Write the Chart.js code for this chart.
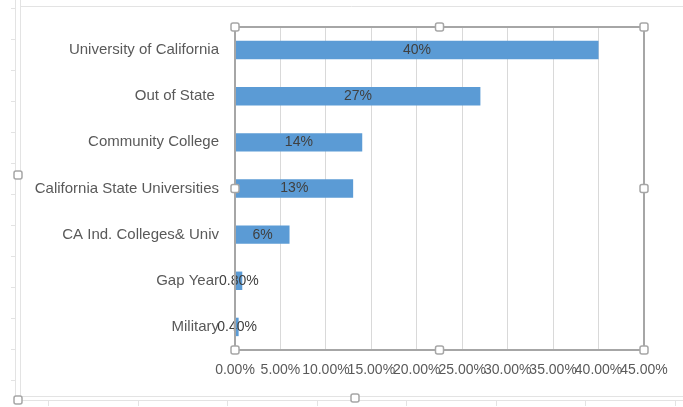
<!DOCTYPE html>
<html>
<head>
<meta charset="utf-8">
<script src="https://cdn.jsdelivr.net/npm/chart.js@4.4.1/dist/chart.umd.min.js"></script>
<style>
  html, body { margin: 0; padding: 0; background: #fff; }
  #wrap { width: 683px; height: 407px; position: relative; }
</style>
</head>
<body>
<div id="wrap"><canvas id="destChart"></canvas></div>
<script>
const categories = [
    'University of California',
    'Out of State ',
    'Community College',
    'California State Universities',
    'CA Ind. Colleges& Univ',
    'Gap Year',
    'Military'
];
const shares = [40, 27, 14, 13, 6, 0.8, 0.4];
const shareLabels = ['40%', '27%', '14%', '13%', '6%', '0.80%', '0.40%'];
const tickValues = [0, 5, 10, 15, 20, 25, 30, 35, 40, 45];

const fontFamily = '"Liberation Sans", Arial, sans-serif';

// values written inside each bar
const barLabels = {
    id: 'barLabels',
    afterDatasetsDraw(chart) {
        const ctx = chart.ctx;
        const meta = chart.getDatasetMeta(0);
        ctx.save();
        ctx.font = '14px ' + fontFamily;
        ctx.fillStyle = '#404040';
        ctx.textAlign = 'center';
        ctx.textBaseline = 'middle';
        meta.data.forEach((bar, i) => {
            ctx.fillText(shareLabels[i], (bar.base + bar.x) / 2, bar.y);
        });
        ctx.restore();
    }
};

// excel-ish selection frame and sheet edges
function handle(ctx, x, y) {
    ctx.beginPath();
    ctx.roundRect(x - 4, y - 4, 8, 8, 2);
    ctx.fillStyle = '#fff';
    ctx.fill();
    ctx.strokeStyle = '#a6a6a6';
    ctx.lineWidth = 1.5;
    ctx.stroke();
}

const frame = {
    id: 'frame',
    beforeDraw(chart) {
        const ctx = chart.ctx;
        ctx.save();
        ctx.strokeStyle = '#e3e3e3';
        ctx.lineWidth = 1;
        ctx.beginPath();
        ctx.moveTo(20, 6.5); ctx.lineTo(683, 6.5);
        ctx.moveTo(15.5, 0); ctx.lineTo(15.5, 400);
        ctx.moveTo(20.5, 0); ctx.lineTo(20.5, 396);
        ctx.moveTo(18, 396.5); ctx.lineTo(683, 396.5);
        ctx.moveTo(15, 400.5); ctx.lineTo(683, 400.5);
        for (let y = 8; y < 396; y += 31) {
            ctx.moveTo(11, y + 0.5); ctx.lineTo(15, y + 0.5);
        }
        for (let x = 48; x < 683; x += 89.5) {
            ctx.moveTo(Math.round(x) + 0.5, 401); ctx.lineTo(Math.round(x) + 0.5, 406);
        }
        ctx.stroke();
        ctx.restore();
    },
    afterDraw(chart) {
        const ctx = chart.ctx;
        const a = chart.chartArea;
        const mx = (a.left + a.right) / 2;
        const my = (a.top + a.bottom) / 2;
        ctx.save();
        ctx.strokeStyle = '#a6a6a6';
        ctx.lineWidth = 2;
        ctx.strokeRect(a.left, a.top, a.right - a.left, a.bottom - a.top);
        [[a.left, a.top], [mx, a.top], [a.right, a.top],
         [a.left, my], [a.right, my],
         [a.left, a.bottom], [mx, a.bottom], [a.right, a.bottom],
         [18, 175], [18, 400], [355, 398]].forEach(p => handle(ctx, p[0], p[1]));
        ctx.restore();
    }
};

const ctx = document.getElementById('destChart').getContext('2d');
new Chart(ctx, {
    type: 'bar',
    data: {
        labels: categories,
        datasets: [{
            data: shares,
            backgroundColor: '#5b9bd5',
            borderWidth: 0,
            barPercentage: 0.4,
            categoryPercentage: 1
        }]
    },
    options: {
        indexAxis: 'y',
        responsive: true,
        maintainAspectRatio: false,
        animation: false,
        layout: { padding: { top: 27, right: 39, left: 0, bottom: 0 } },
        plugins: {
            legend: { display: false },
            tooltip: { enabled: false }
        },
        scales: {
            x: {
                min: 0,
                max: 45,
                afterBuildTicks(scale) {
                    scale.ticks = tickValues.map(v => ({ value: v }));
                },
                afterFit(scale) { scale.height = 57; },
                ticks: {
                    autoSkip: false,
                    maxRotation: 0,
                    padding: 12,
                    color: '#595959',
                    font: { family: fontFamily, size: 14 },
                    callback: v => v.toFixed(2) + '%'
                },
                grid: { color: '#d9d9d9', drawTicks: false },
                border: { display: false }
            },
            y: {
                afterFit(scale) { scale.width = 235; },
                ticks: {
                    padding: 16,
                    color: '#595959',
                    font: { family: fontFamily, size: 15 }
                },
                grid: { display: false, drawTicks: false },
                border: { display: false }
            }
        }
    },
    plugins: [frame, barLabels]
});
</script>
</body>
</html>
